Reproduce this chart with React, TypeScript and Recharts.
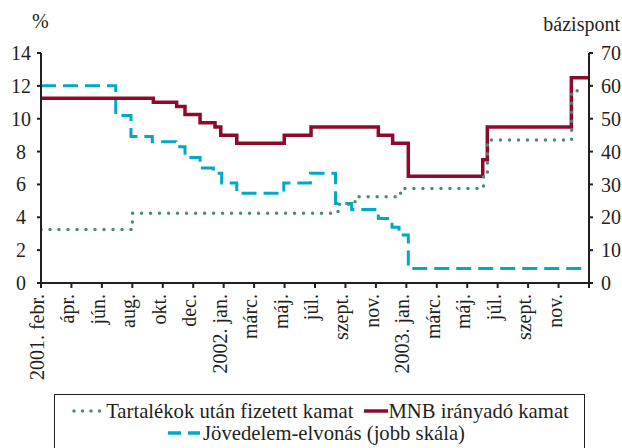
import React from 'react';
import { LineChart, Line, XAxis, YAxis } from 'recharts';

// months since 2001 febr., tick every 2 months
const tickLabels = [
  '2001. febr.', 'ápr.', 'jún.', 'aug.', 'okt.', 'dec.',
  '2002. jan.', 'márc.', 'máj.', 'júl.', 'szept.', 'nov.',
  '2003. jan.', 'márc.', 'máj.', 'júl.', 'szept.', 'nov.',
];
const tickPositions = [...tickLabels.map((_, i) => i * 2), 36];

const leftTicks = [0, 2, 4, 6, 8, 10, 12, 14];
const rightTicks = [0, 10, 20, 30, 40, 50, 60, 70];

// MNB irányadó kamat (%)
const mnbT = [0, 7.38, 8.91, 9.46, 10.45, 11.43, 11.81, 12.86, 15.98, 17.74, 22.16, 23.1, 24.13, 29.02, 29.32, 34.84, 36];
const mnbV = [11.25, 11.0, 10.75, 10.25, 9.75, 9.5, 9.0, 8.5, 9.0, 9.5, 9.0, 8.5, 6.5, 7.5, 9.5, 12.5, 12.5];

// Tartalékok után fizetett kamat (%)
const reserveT = [0, 6.0, 19.51, 20.63, 23.62, 29.07, 29.33, 34.86, 35.54];
const reserveV = [3.25, 4.25, 4.8, 5.25, 5.75, 6.5, 8.7, 11.7, 11.7];

// Jövedelem-elvonás (bázispont, jobb skála)
const levyT = [0, 4.91, 5.91, 7.31, 8.87, 9.46, 10.45, 11.32, 11.87, 12.86, 15.95, 17.7, 19.35, 20.41, 22.16, 23.06, 23.52, 24.13, 35.74];
const levyV = [60, 51, 44.6, 43, 41.5, 38.2, 35, 33.4, 30.4, 27.3, 30.4, 33.4, 24.2, 22.4, 19.6, 17, 14.6, 4.4, 4.4];

const toRows = (ts: number[], vs: number[]) => ts.map((t, i) => ({ t, v: vs[i] }));
const mnbData = toRows(mnbT, mnbV);
const reserveData = toRows(reserveT, reserveV);
const levyData = toRows(levyT, levyV);

const FONT = '"Liberation Serif", "Times New Roman", serif';
const INK = '#231f20';
const RED = '#8e0a2c';
const CYAN = '#00a9c7';
const GREEN = '#4a8d72';

const XTick = (props: any) => {
  const { x, y, payload } = props;
  const label = tickLabels[payload.value / 2] ?? '';
  return (
    <text
      transform={`translate(${x + 3},${y + 4}) rotate(-90)`}
      textAnchor="end"
      fontFamily={FONT}
      fontSize={20}
      fill={INK}
    >
      {label}
    </text>
  );
};

const LeftTick = (props: any) => {
  const { y, payload } = props;
  return (
    <text x={21} y={y} dy="0.35em" textAnchor="middle" fontFamily={FONT} fontSize={20} fill={INK}>
      {payload.value}
    </text>
  );
};

export default function App() {
  return (
    <div style={{ position: 'absolute', left: 0, top: 0, width: 622, height: 448, background: '#fff', fontFamily: FONT, color: INK }}>
      <LineChart width={622} height={448} margin={{ top: 53, right: 0, bottom: 0, left: 0 }}>
        <XAxis
          dataKey="t"
          type="number"
          domain={[0, 36]}
          ticks={tickPositions}
          interval={0}
          height={165}
          tick={<XTick />}
          tickSize={5}
          axisLine={{ stroke: INK, strokeWidth: 2 }}
          tickLine={{ stroke: INK, strokeWidth: 2 }}
          allowDataOverflow
        />
        <YAxis
          yAxisId="left"
          domain={[0, 14]}
          ticks={leftTicks}
          interval={0}
          width={41}
          tick={<LeftTick />}
          tickSize={4}
          axisLine={{ stroke: INK, strokeWidth: 2 }}
          tickLine={{ stroke: INK, strokeWidth: 2 }}
        />
        <YAxis
          yAxisId="right"
          orientation="right"
          domain={[0, 70]}
          ticks={rightTicks}
          interval={0}
          width={33}
          tickSize={4}
          tickMargin={8}
          tick={{ fontFamily: FONT, fontSize: 20, fill: INK, textAnchor: 'start' }}
          axisLine={{ stroke: INK, strokeWidth: 2 }}
          tickLine={{ stroke: INK, strokeWidth: 2 }}
        />
        <Line
          yAxisId="right"
          data={levyData}
          dataKey="v"
          type="stepAfter"
          stroke={CYAN}
          strokeWidth={3}
          strokeDasharray="15 7"
          dot={false}
          activeDot={false}
          isAnimationActive={false}
        />
        <Line
          yAxisId="left"
          data={mnbData}
          dataKey="v"
          type="stepAfter"
          stroke={RED}
          strokeWidth={3.5}
          dot={false}
          activeDot={false}
          isAnimationActive={false}
        />
        <Line
          yAxisId="left"
          data={reserveData}
          dataKey="v"
          type="stepAfter"
          stroke={GREEN}
          strokeWidth={3.5}
          strokeDasharray="0 9"
          strokeLinecap="round"
          dot={false}
          activeDot={false}
          isAnimationActive={false}
        />
      </LineChart>

      <div style={{ position: 'absolute', left: 32, top: 10, fontSize: 20 }}>%</div>
      <div style={{ position: 'absolute', right: 2, top: 13, fontSize: 20 }}>bázispont</div>

      <div
        style={{
          position: 'absolute', left: 54, top: 394, width: 531, height: 70,
          border: `1.5px solid ${INK}`, boxSizing: 'border-box', fontSize: 20.7, lineHeight: '22px',
        }}
      >
        <div style={{ display: 'flex', justifyContent: 'center', alignItems: 'center', marginTop: 5, marginLeft: 2 }}>
          <svg width={30} height={10}>
            <line x1={2} y1={5} x2={28} y2={5} stroke={GREEN} strokeWidth={3.5} strokeDasharray="0 8.5" strokeLinecap="round" />
          </svg>
          <span style={{ marginLeft: 4 }}>Tartalékok után fizetett kamat</span>
          <svg width={24} height={10} style={{ marginLeft: 11 }}>
            <line x1={0} y1={5} x2={24} y2={5} stroke={RED} strokeWidth={3.5} />
          </svg>
          <span>MNB irányadó kamat</span>
        </div>
        <div style={{ display: 'flex', justifyContent: 'center', alignItems: 'center', marginTop: 0, marginRight: 6 }}>
          <svg width={33} height={10}>
            <line x1={0} y1={5} x2={32} y2={5} stroke={CYAN} strokeWidth={3.5} strokeDasharray="13 7" />
          </svg>
          <span style={{ marginLeft: 2 }}>Jövedelem-elvonás (jobb skála)</span>
        </div>
      </div>
    </div>
  );
}
